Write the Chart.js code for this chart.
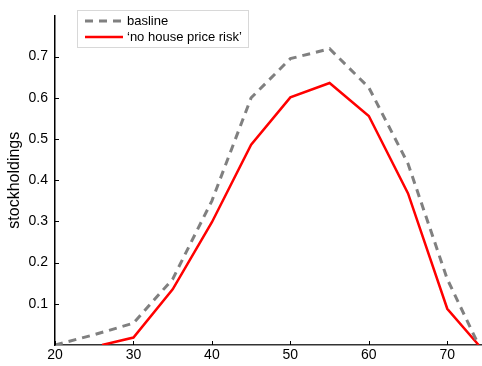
<!DOCTYPE html>
<html>
<head>
<meta charset="utf-8">
<script src="https://cdn.jsdelivr.net/npm/chart.js@4.4.0/dist/chart.umd.min.js"></script>
<style>
  html, body { margin: 0; padding: 0; background: #fff; }
  #wrap { width: 482px; height: 366px; }
</style>
</head>
<body>
<div id="wrap"><canvas id="lineChart" width="482" height="366"></canvas></div>
<script>
// age points and the two series
var baseAges = [20, 25, 30, 35, 40, 45, 50, 55, 60, 65, 70, 74];
var baseline = [0, 0.025, 0.053, 0.16, 0.35, 0.6, 0.695, 0.719, 0.625, 0.44, 0.16, 0];
var riskAges = [26, 30, 35, 40, 45, 50, 55, 60, 65, 70, 74];
var noRisk = [0, 0.018, 0.135, 0.298, 0.486, 0.601, 0.636, 0.556, 0.368, 0.088, 0];
var xTicks = [20, 30, 40, 50, 60, 70];
var yTicks = [0.1, 0.2, 0.3, 0.4, 0.5, 0.6, 0.7];
var seriesNames = ['basline', '\u2018no house price risk\u2019'];

function toPoints(xs, ys) {
  return xs.map(function (x, i) { return { x: x, y: ys[i] }; });
}

var fontFamily = '"Liberation Sans", Arial, Helvetica, sans-serif';

// small inward tick marks like the original figure
var innerTicks = {
  id: 'innerTicks',
  afterDatasetsDraw: function (chart) {
    var c = chart.ctx, a = chart.chartArea;
    var xs = chart.scales.x, ys = chart.scales.y;
    c.save();
    c.strokeStyle = '#000';
    c.lineWidth = 1;
    c.beginPath();
    xTicks.forEach(function (t) {
      var px = Math.round(xs.getPixelForValue(t)) + 0.5;
      c.moveTo(px, a.bottom);
      c.lineTo(px, a.bottom - 4);
    });
    yTicks.forEach(function (t) {
      var py = Math.round(ys.getPixelForValue(t)) + 0.5;
      c.moveTo(a.left, py);
      c.lineTo(a.left + 4, py);
    });
    c.stroke();
    c.restore();
  }
};

// legend box inside the plot, top left
var boxLegend = {
  id: 'boxLegend',
  afterDraw: function (chart) {
    var c = chart.ctx;
    var x0 = 77, y0 = 10, w = 171, h = 37;
    c.save();
    c.fillStyle = '#fff';
    c.fillRect(x0, y0, w, h);
    c.strokeStyle = '#d8d8d8';
    c.lineWidth = 1;
    c.strokeRect(x0 + 0.5, y0 + 0.5, w, h);
    c.font = '13px ' + fontFamily;
    c.textBaseline = 'middle';
    c.fillStyle = '#000';
    chart.data.datasets.forEach(function (ds, i) {
      var ly = y0 + 11 + i * 16;
      c.strokeStyle = ds.borderColor;
      c.lineWidth = ds.borderWidth;
      c.setLineDash(ds.borderDash || []);
      c.beginPath();
      c.moveTo(x0 + 8, ly);
      c.lineTo(x0 + 46, ly);
      c.stroke();
      c.setLineDash([]);
      c.fillText(ds.label, x0 + 50, ly);
    });
    c.restore();
  }
};

var ctx = document.getElementById('lineChart').getContext('2d');
var chart = new Chart(ctx, {
  type: 'line',
  data: {
    datasets: [{
      label: seriesNames[0],
      data: toPoints(baseAges, baseline),
      borderColor: '#808080',
      borderWidth: 3,
      borderDash: [8, 6],
      pointRadius: 0,
      fill: false
    }, {
      label: seriesNames[1],
      data: toPoints(riskAges, noRisk),
      borderColor: '#ff0000',
      borderWidth: 2.5,
      pointRadius: 0,
      fill: false
    }]
  },
  options: {
    responsive: false,
    animation: false,
    layout: { padding: { top: 5, right: 1, left: 0, bottom: 0 } },
    plugins: {
      legend: { display: false },
      tooltip: { enabled: false }
    },
    scales: {
      x: {
        type: 'linear',
        min: 20,
        max: 74.3,
        afterBuildTicks: function (s) { s.ticks = xTicks.map(function (v) { return { value: v }; }); },
        afterFit: function (s) { s.height = 21; },
        ticks: { color: '#000', font: { family: fontFamily, size: 14 }, padding: 2, maxRotation: 0 },
        grid: { display: true, drawOnChartArea: false, drawTicks: false },
        border: { display: true, color: '#333', width: 1.5 }
      },
      y: {
        min: 0,
        max: 0.8,
        afterBuildTicks: function (s) { s.ticks = yTicks.map(function (v) { return { value: v }; }); },
        afterFit: function (s) { s.width = 55; },
        ticks: {
          color: '#000',
          font: { family: fontFamily, size: 14 },
          padding: 7,
          callback: function (v) { return v.toFixed(1); }
        },
        title: {
          display: true,
          text: 'stockholdings',
          color: '#000',
          font: { family: fontFamily, size: 16 },
          padding: { top: 5, bottom: 0 }
        },
        grid: { display: true, drawOnChartArea: false, drawTicks: false },
        border: { display: true, color: '#000', width: 1.5 }
      }
    }
  },
  plugins: [innerTicks, boxLegend]
});
</script>
</body>
</html>
